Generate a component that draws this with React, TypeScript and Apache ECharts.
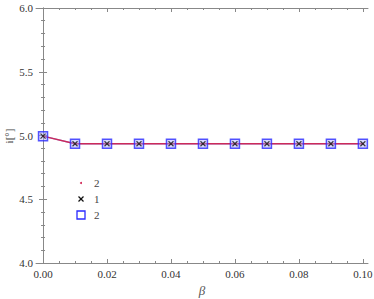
import React, { useEffect, useRef } from "react";
import * as echarts from "echarts";

const betaValues = [0, 0.01, 0.02, 0.03, 0.04, 0.05, 0.06, 0.07, 0.08, 0.09, 0.1];
const iValues = [4.995, 4.935, 4.935, 4.935, 4.935, 4.935, 4.935, 4.935, 4.935, 4.935, 4.935];
const xTickLabels = [0, 0.02, 0.04, 0.06, 0.08, 0.1];
const xMinorTicks = [0.005, 0.01, 0.015, 0.025, 0.03, 0.035, 0.045, 0.05, 0.055, 0.065, 0.07, 0.075, 0.085, 0.09, 0.095];
const legendNames = ["2", "1", "2"];
const yTitle = "i[°]";

const FONT = "Liberation Serif";
const XMIN = -0.0022;
const XMAX = 0.1016;
const AXIS = "#888";

export default function App() {
  const ref = useRef<HTMLDivElement>(null);
  useEffect(() => {
    if (!ref.current) return;
    const chart = echarts.init(ref.current, undefined, { renderer: "svg" });
    const pts = betaValues.map((b, k) => [b, iValues[k]]);
    const xBase = {
      type: "value" as const,
      min: XMIN,
      max: XMAX,
      splitLine: { show: false },
    };
    const majorX = {
      ...xBase,
      axisLine: { show: true, lineStyle: { color: AXIS, width: 1 } },
      axisTick: { show: true, inside: true, length: 4, lineStyle: { color: AXIS }, customValues: xTickLabels },
    };
    const minorX = {
      ...xBase,
      axisLine: { show: false },
      axisLabel: { show: false },
      axisTick: { show: true, inside: true, length: 2, lineStyle: { color: AXIS }, customValues: xMinorTicks },
    };
    const yBase = {
      type: "value" as const,
      min: 4,
      max: 6,
      interval: 0.5,
      splitLine: { show: false },
      axisLine: { show: true, lineStyle: { color: AXIS, width: 1 } },
      axisTick: { show: true, inside: true, length: 4, lineStyle: { color: AXIS } },
      minorTick: { show: true, splitNumber: 5, length: 2, lineStyle: { color: AXIS } },
    };
    chart.setOption({
      animation: false,
      backgroundColor: "#fff",
      textStyle: { fontFamily: FONT },
      grid: { left: 36, right: 6, top: 8, bottom: 36, containLabel: false, outerBoundsMode: "none" },
      xAxis: [
        {
          ...majorX,
          position: "bottom",
          name: "β",
          nameLocation: "middle",
          nameGap: 21,
          nameTextStyle: { fontFamily: FONT, fontSize: 13, fontStyle: "italic", color: "#555" },
          axisLabel: {
            show: true,
            customValues: xTickLabels,
            formatter: (v: number) => v.toFixed(2),
            fontFamily: FONT,
            fontSize: 11,
            color: "#333",
            margin: 5,
          },
        },
        { ...minorX, position: "bottom" },
        { ...majorX, position: "top", axisLabel: { show: false } },
        { ...minorX, position: "top" },
      ],
      yAxis: [
        {
          ...yBase,
          position: "left",
          axisLabel: {
            show: true,
            formatter: (v: number) => v.toFixed(1),
            fontFamily: FONT,
            fontSize: 11,
            color: "#333",
            margin: 3,
          },
        },
        { ...yBase, position: "right", axisLabel: { show: false } },
      ],
      series: [
        {
          name: "2",
          type: "line",
          data: pts,
          xAxisIndex: 0,
          yAxisIndex: 0,
          showSymbol: false,
          symbol: "none",
          lineStyle: { color: "#7a7ae8", width: 1.5, opacity: 0.7 },
          z: 1,
        },
        {
          name: "2",
          type: "line",
          data: pts,
          xAxisIndex: 0,
          yAxisIndex: 0,
          symbol: "circle",
          symbolSize: 2,
          itemStyle: { color: "#d02050" },
          lineStyle: { color: "#cc2a5a", width: 1.5 },
          z: 2,
        },
        {
          name: "2",
          type: "scatter",
          data: pts,
          xAxisIndex: 0,
          yAxisIndex: 0,
          symbol: "rect",
          symbolSize: 9,
          itemStyle: { color: "rgba(170,170,255,0.55)", borderColor: "#2a2aff", borderWidth: 1.5 },
          z: 3,
        },
        {
          name: "1",
          type: "scatter",
          data: pts,
          xAxisIndex: 0,
          yAxisIndex: 0,
          symbol: "path://M0,0 L10,10 M10,0 L0,10",
          symbolSize: 5,
          itemStyle: { color: "none", borderColor: "#111", borderWidth: 1.2 },
          z: 4,
        },
      ],
      graphic: [
        {
          type: "text",
          x: 9,
          y: 136,
          rotation: Math.PI / 2,
          style: { text: yTitle, fontFamily: FONT, fontSize: 11, fill: "#444", align: "center", verticalAlign: "middle" },
        },
        { type: "circle", shape: { cx: 81, cy: 183, r: 1 }, style: { fill: "#d02050" } },
        { type: "text", x: 94, y: 183, style: { text: legendNames[0], fontFamily: FONT, fontSize: 11, fill: "#444", verticalAlign: "middle" } },
        { type: "line", shape: { x1: 78.5, y1: 196.5, x2: 83.5, y2: 201.5 }, style: { stroke: "#111", lineWidth: 1.2 } },
        { type: "line", shape: { x1: 83.5, y1: 196.5, x2: 78.5, y2: 201.5 }, style: { stroke: "#111", lineWidth: 1.2 } },
        { type: "text", x: 94, y: 199, style: { text: legendNames[1], fontFamily: FONT, fontSize: 11, fill: "#444", verticalAlign: "middle" } },
        { type: "rect", shape: { x: 77, y: 211, width: 8, height: 8 }, style: { fill: "#fff", stroke: "#2a2aff", lineWidth: 1.3 } },
        { type: "text", x: 94, y: 215, style: { text: legendNames[2], fontFamily: FONT, fontSize: 11, fill: "#444", verticalAlign: "middle" } },
      ],
    });
    return () => chart.dispose();
  }, []);
  return <div ref={ref} style={{ width: 374, height: 299, position: "absolute", left: 0, top: 0 }} />;
}
